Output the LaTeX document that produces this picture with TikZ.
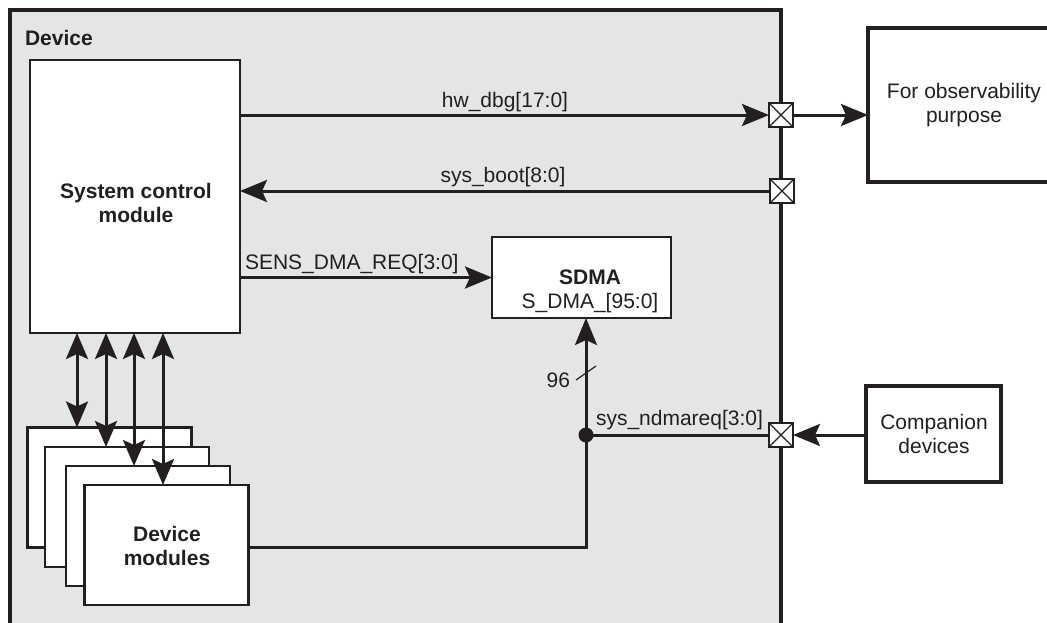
\documentclass[tikz,border=0pt]{standalone}
\usepackage{fontspec}
\setmainfont{Liberation Sans}
\usetikzlibrary{arrows.meta,calc}
\definecolor{ink}{HTML}{231F20}
\definecolor{devgray}{HTML}{E4E5E7}
\begin{document}
\begin{tikzpicture}[x=1pt,y=-1pt,
  font=\fontsize{21}{24}\selectfont,
  every node/.style={inner sep=0pt, outer sep=0pt, text=ink},
  boldtext/.style={font=\fontsize{21}{24}\selectfont\bfseries},
  box/.style={draw=ink, fill=white, line width=2.5pt, minimum width=164pt, minimum height=120pt},
  bigbox/.style={draw=ink, fill=white, line width=3.5pt},
  port/.style={draw=ink, fill=white, line width=1.5pt, minimum size=24pt,
    path picture={\draw[ink,line width=1.2pt] (path picture bounding box.north west) -- (path picture bounding box.south east) (path picture bounding box.north east) -- (path picture bounding box.south west);}},
  wire/.style={draw=ink, line width=3pt},
  arr/.style={wire, -{Stealth[length=27pt,width=22pt,inset=5pt]}},
  darr/.style={wire, {Stealth[length=26pt,width=22pt,inset=5pt]}-{Stealth[length=26pt,width=22pt,inset=5pt]}},
]
\useasboundingbox (0,0) rectangle (1047,622);
% device container
\node[draw=ink, fill=devgray, line width=3.3pt, minimum width=771pt, minimum height=630pt] (device) at (395.5,325) {};
\node[boldtext, anchor=base west] (devlbl) at (25,45) {Device};

% blocks
\node[draw=ink, fill=white, line width=2.5pt, minimum width=210pt, minimum height=273pt] (scm) at (135,196.5) {};
\node[boldtext, align=center] (scmtxt) at (136,203.4) {System control\\module};
\node[draw=ink, fill=white, line width=2.5pt, minimum width=179pt, minimum height=81pt] (sdma) at (581.5,277.5) {};
\node[align=center] (sdmatxt) at (590,291.1) {\textbf{SDMA}\\S\_DMA\_[95:0]};
\node[bigbox, minimum width=192pt, minimum height=154pt] (obs) at (964,105) {};
\node[align=center] (obstxt) at (964,104.6) {For observability\\purpose};
\node[bigbox, minimum width=135pt, minimum height=96pt] (comp) at (933.5,434) {};
\node[align=center] (comptxt) at (934,434.4) {Companion\\devices};

\node[box] (dm1) at (109.5,487.5) {};
\node[box] (dm2) at (127,507) {};
\node[box] (dm3) at (148,526) {};
\node[box] (dm4) at (166.5,545) {};
\node[boldtext, align=center] (dmtxt) at (167,546.4) {Device\\modules};

% ports
\node[port] (p1) at (781,115) {};
\node[port] (p2) at (782,191) {};
\node[port] (p3) at (781,435) {};

% signals
\draw[arr] (scm.east |- p1) -- (p1.west);
\node[anchor=base] (hwlbl) at (505,107) {hw\_dbg[17:0]};
\draw[arr] (p1.east) -- (p1.east -| obs.west);

\draw[arr] (p2.west) -- (p2.west -| scm.east);
\node[anchor=base] (bootlbl) at (503,182) {sys\_boot[8:0]};

\draw[arr] (scm.east |- sdma.west) -- (sdma.west);
\node[anchor=base west] (senslbl) at (245,269) {SENS\_DMA\_REQ[3:0]};

% bus to SDMA
\coordinate (bj) at (586,547);
\node[circle, fill=ink, minimum size=15pt] (dot) at (586,435) {};
\draw[arr] (dm4.east |- bj) -- (bj) -- (bj |- sdma.south);
\draw[wire] (p3.west) -- (dot.center);
\node[anchor=base west] (ndmalbl) at (596,425) {sys\_ndmareq[3:0]};
\draw[arr] (comp.west |- p3) -- (p3.east);
\draw[ink, line width=1.2pt] (576,380) -- (596,366);
\node[anchor=base east] (widthlbl) at (570,387) {96};

% bidirectional links
\foreach \dx/\d [count=\i] in {47/dm1,76/dm2,104/dm3,133/dm4}{
  \coordinate (t\i) at ($(scm.south west)+(\dx,0)$);
  \draw[darr] (t\i) -- (t\i |- \d.north);
}
\end{tikzpicture}
\end{document}
